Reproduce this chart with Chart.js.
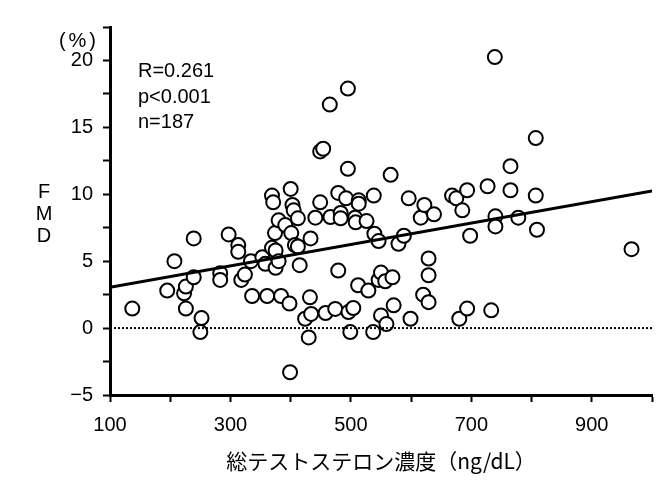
<!DOCTYPE html>
<html>
<head>
<meta charset="utf-8">
<script src="https://cdn.jsdelivr.net/npm/chart.js@4.4.1/dist/chart.umd.min.js"></script>
<style>
  html, body { margin: 0; padding: 0; background: #fff; }
  canvas { display: block; }
</style>
</head>
<body>
<canvas id="fmdChart" width="667" height="483"></canvas>
<script>
// total testosterone (ng/dL) vs FMD (%)
const testosterone = [
  137, 195, 207, 223, 226, 226, 239, 239, 252, 250,
  283, 283, 297, 313, 313, 318, 324, 334, 336, 353,
  358, 361, 369, 371, 369, 374, 375, 375, 380, 380,
  384, 391, 400, 401, 398, 399, 403, 405, 407, 412,
  412, 415, 432, 433, 424, 434, 430, 441, 449, 449,
  454, 458, 465, 466, 474, 479, 479, 483, 483, 492,
  495, 495, 496, 504, 499, 507, 508, 513, 513, 512,
  526, 529, 538, 539, 537, 546, 546, 550, 557, 550,
  559, 566, 569, 571, 579, 588, 596, 599, 616, 622,
  638, 620, 629, 629, 629, 668, 675, 685, 693, 680,
  693, 698, 727, 733, 739, 740, 740, 765, 765, 778,
  807, 807, 809, 966
];
const fmd = [
  1.46, 2.8, 5.0, 2.6, 3.1, 1.46, 6.7, 3.8, 0.75, -0.3,
  4.1, 3.6, 7.0, 6.2, 5.7, 3.6, 4.0, 5.0, 2.4, 5.3,
  4.8, 2.4, 9.9, 9.4, 6.0, 7.1, 5.8, 4.5, 8.05, 5.0,
  2.4, 7.7, 10.4, 7.1, 1.84, -3.3, 9.2, 8.8, 6.2, 8.2,
  6.1, 4.7, 2.3, 6.7, 0.7, 1.06, -0.7, 8.25, 9.4, 13.2,
  13.4, 1.13, 16.7, 8.3, 1.43, 10.1, 4.3, 8.6, 8.2, 9.7,
  17.9, 11.9, 1.2, 1.5, -0.3, 8.25, 7.9, 9.55, 9.3, 3.2,
  8.0, 2.8, 9.9, 7.05, -0.3, 6.5, 3.6, 4.15, 3.5, 0.95,
  0.3, 11.45, 3.8, 1.7, 6.3, 6.9, 9.7, 0.7, 8.25, 9.2,
  8.5, 2.5, 5.2, 3.95, 1.94, 9.9, 9.7, 8.8, 10.3, 0.7,
  1.46, 6.9, 10.6, 1.33, 20.25, 8.35, 7.6, 12.1, 10.3, 8.25,
  14.2, 9.9, 7.35, 5.9
];
// regression line end points
const fitX = [100, 1000];
const fitY = [3.05, 10.25];
// zero reference
const zeroX = [100, 1000];
const zeroY = [0, 0];
const statLines = ['R=0.261', 'p<0.001', 'n=187'];
const xLabelValues = [100, 300, 500, 700, 900];
const yLabelValues = [-5, 0, 5, 10, 15, 20];

const toXY = (xs, ys) => xs.map((x, i) => ({ x: x, y: ys[i] }));

const textPlugin = {
  id: 'extraText',
  afterDraw(chart) {
    const ctx = chart.ctx;
    ctx.save();
    ctx.fillStyle = '#000';
    ctx.font = '20px "Liberation Sans", Arial, sans-serif';
    ctx.textAlign = 'left';
    ctx.textBaseline = 'alphabetic';
    const yb = [77, 103, 128];
    statLines.forEach((t, i) => ctx.fillText(t, 138, yb[i]));

    // vertical FMD label
    ctx.textAlign = 'center';
    ['F', 'M', 'D'].forEach((t, i) => ctx.fillText(t, 44, 198 + i * 22));

    // unit
    ctx.textAlign = 'right';
    ctx.letterSpacing = '3px';
    ctx.fillText('(%)', 99, 47);
    ctx.restore();
  }
};

new Chart(document.getElementById('fmdChart'), {
  type: 'scatter',
  data: {
    datasets: [
      {
        data: toXY(zeroX, zeroY),
        type: 'line',
        borderColor: '#000',
        borderWidth: 2,
        borderDash: [2, 2],
        pointRadius: 0,
        fill: false,
      },
      {
        data: toXY(fitX, fitY),
        type: 'line',
        borderColor: '#000',
        borderWidth: 3,
        pointRadius: 0,
        fill: false,
      },
      {
        data: toXY(testosterone, fmd),
        pointRadius: 7,
        pointBorderWidth: 2,
        pointBackgroundColor: '#fff',
        pointBorderColor: '#000',
      },
    ],
  },
  options: {
    responsive: false,
    animation: false,
    devicePixelRatio: 1,
    layout: { padding: { left: 0, top: 27, right: 15, bottom: 0 } },
    plugins: {
      legend: { display: false },
      tooltip: { enabled: false },
    },
    scales: {
      x: {
        type: 'linear',
        min: 100,
        max: 1000,
        afterFit: (scale) => { scale.height = 88; },
        border: { color: '#000', width: 3 },
        grid: { drawOnChartArea: false, tickLength: 7, tickColor: '#000', tickWidth: 2 },
        ticks: {
          stepSize: 100,
          padding: 11,
          color: '#000',
          maxRotation: 0,
          autoSkip: false,
          font: { family: '"Liberation Sans", Arial, sans-serif', size: 20 },
          callback: (v) => xLabelValues.includes(v) ? String(v) : '',
        },
        title: {
          display: true,
          text: '総テストステロン濃度（ng/dL）',
          color: '#000',
          font: { family: '"Noto Sans CJK JP", sans-serif', size: 21 },
          padding: { top: 0, bottom: 9 },
        },
      },
      y: {
        min: -5,
        max: 22.5,
        afterFit: (scale) => { scale.width = 110; },
        border: { color: '#000', width: 3 },
        grid: { drawOnChartArea: false, tickLength: 7, tickColor: '#000', tickWidth: 2 },
        ticks: {
          stepSize: 2.5,
          padding: 10,
          color: '#000',
          autoSkip: false,
          font: { family: '"Liberation Sans", Arial, sans-serif', size: 20 },
          callback: (v) => yLabelValues.includes(v) ? (v < 0 ? '\u2212' + (-v) : String(v)) : '',
        },
      },
    },
  },
  plugins: [textPlugin],
});
</script>
</body>
</html>
